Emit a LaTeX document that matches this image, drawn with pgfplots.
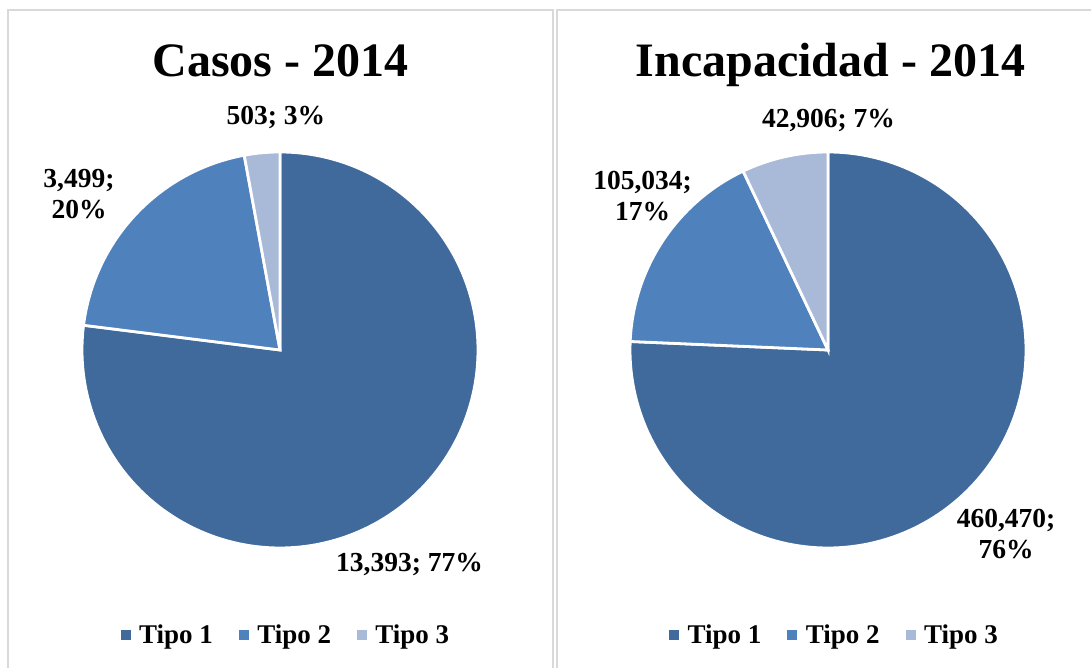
\documentclass[border=0pt]{standalone}
\usepackage{fontspec}
\setmainfont{Liberation Serif}
\usepackage{pgfplots}
\pgfplotsset{compat=1.18}
\definecolor{tA}{HTML}{40699C}
\definecolor{tB}{HTML}{4F81BD}
\definecolor{tC}{HTML}{A9B9D8}
\definecolor{frm}{HTML}{D9D9D9}

% data: Casos - 2014
\def\cA{13393}\def\cB{3499}\def\cC{503}
% data: Incapacidad - 2014
\def\iA{460470}\def\iB{105034}\def\iC{42906}

\edef\cOne{\fpeval{round(90-360*\cA/(\cA+\cB+\cC),3)}}
\edef\cTwo{\fpeval{round(\cOne-360*\cB/(\cA+\cB+\cC),3)}}
\edef\iOne{\fpeval{round(90-360*\iA/(\iA+\iB+\iC),3)}}
\edef\iTwo{\fpeval{round(\iOne-360*\iB/(\iA+\iB+\iC),3)}}

\pgfplotsset{
  pieaxis/.style={
    x={(1pt,0)}, y={(0,1pt)},
    xmin=0, xmax=1091, ymin=0, ymax=668,
    hide axis, clip=false,
    at={(0,0)}, anchor=south west,
    legend columns=3,
    legend image code/.code={\fill[##1, draw=none] (0pt,-5pt) rectangle (10pt,5pt); \path (15pt,0pt);},
    legend style={draw=none, fill=none, anchor=center,
      font=\fontsize{27}{32}\selectfont\bfseries,
      /tikz/every even column/.append style={column sep=24pt}},
  },
  slice/.style={draw=white, line width=2.8pt, samples=160, variable=\t},
}
\tikzset{lbl/.style={font=\fontsize{27.5}{32}\selectfont\bfseries, anchor=base, inner sep=0pt},
         ttl/.style={font=\fontsize{48}{58}\selectfont\bfseries, anchor=base, inner sep=0pt}}

\begin{document}
\begin{tikzpicture}
\useasboundingbox (0,0) rectangle (1091pt,668pt);
\clip (0,0) rectangle (1091pt,668pt);
\draw[frm, line width=1.5pt] (8pt,-20pt) rectangle (553pt,658pt);
\draw[frm, line width=1.5pt] (557pt,-20pt) rectangle (1110pt,658pt);

\begin{axis}[pieaxis, legend style={at={(axis description cs:0.2621,0.0494)}}]
\addplot[slice, fill=tA, domain=\cOne:90] ({280+198*cos(\t)},{318+198*sin(\t)}) -- (axis cs:280,318) -- cycle;
\addlegendentry{Tipo 1}
\addplot[slice, fill=tB, domain=\cTwo:\cOne] ({280+198*cos(\t)},{318+198*sin(\t)}) -- (axis cs:280,318) -- cycle;
\addlegendentry{Tipo 2}
\addplot[slice, fill=tC, domain=-270:\cTwo] ({280+198*cos(\t)},{318+198*sin(\t)}) -- (axis cs:280,318) -- cycle;
\addlegendentry{Tipo 3}
\node[ttl] at (axis cs:280.5,591) {Casos - 2014};
\node[lbl] at (axis cs:276,543) {503; 3\%};
\node[lbl] at (axis cs:79,480) {3,499;};
\node[lbl] at (axis cs:79,449) {20\%};
\node[lbl] at (axis cs:409.5,96) {13,393; 77\%};
\end{axis}

\begin{axis}[pieaxis, legend style={at={(axis description cs:0.7649,0.0494)}}]
\addplot[slice, fill=tA, domain=\iOne:90] ({828+198*cos(\t)},{318+198*sin(\t)}) -- (axis cs:828,318) -- cycle;
\addlegendentry{Tipo 1}
\addplot[slice, fill=tB, domain=\iTwo:\iOne] ({828+198*cos(\t)},{318+198*sin(\t)}) -- (axis cs:828,318) -- cycle;
\addlegendentry{Tipo 2}
\addplot[slice, fill=tC, domain=-270:\iTwo] ({828+198*cos(\t)},{318+198*sin(\t)}) -- (axis cs:828,318) -- cycle;
\addlegendentry{Tipo 3}
\node[ttl] at (axis cs:830.5,591) {Incapacidad - 2014};
\node[lbl] at (axis cs:828.5,540) {42,906; 7\%};
\node[lbl] at (axis cs:642.5,478) {105,034;};
\node[lbl] at (axis cs:642.5,447) {17\%};
\node[lbl] at (axis cs:1006,140) {460,470;};
\node[lbl] at (axis cs:1006,109) {76\%};
\end{axis}
\end{tikzpicture}
\end{document}
